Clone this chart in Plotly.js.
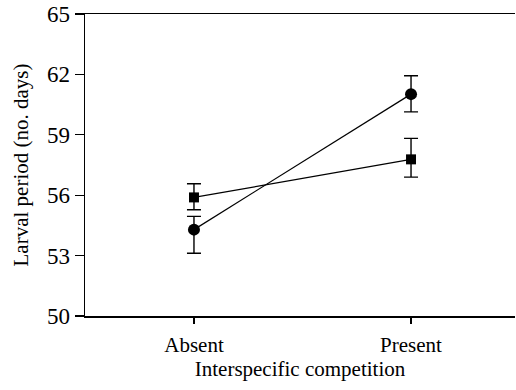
<!DOCTYPE html>
<html>
<head>
<meta charset="utf-8">
<script src="https://cdn.plot.ly/plotly-3.0.1.min.js"></script>
<style>html,body{margin:0;padding:0;background:#fff;}#chart{width:516px;height:390px;}</style>
</head>
<body>
<div id="chart"></div>
<script>
var categories = ["Absent", "Present"];
var catPositions = [0, 1];
var circleValues = [54.29, 61.02];
var circleErrPlus = [0.66, 0.91];
var circleErrMinus = [1.17, 0.88];
var squareValues = [55.89, 57.78];
var squareErrPlus = [0.68, 1.04];
var squareErrMinus = [0.61, 0.88];
var yTicks = [50, 53, 56, 59, 62, 65];

var serif = "Liberation Serif, Times New Roman, serif";

function series(vals, plus, minus, symbol, size) {
  return {
    x: catPositions, y: vals, type: "scatter", mode: "lines+markers",
    line: {color: "#000", width: 1.2},
    marker: {symbol: symbol, size: size, color: "#000"},
    error_y: {type: "data", symmetric: false, array: plus, arrayminus: minus,
              color: "#000", thickness: 1.4, width: 7},
    showlegend: false, cliponaxis: false
  };
}

var data = [
  series(circleValues, circleErrPlus, circleErrMinus, "circle", 12),
  series(squareValues, squareErrPlus, squareErrMinus, "square", 10)
];

var layout = {
  width: 516, height: 390,
  margin: {l: 85, r: 1, t: 14, b: 74},
  paper_bgcolor: "#fff", plot_bgcolor: "#fff",
  font: {family: serif, color: "#000", size: 21},
  xaxis: {
    range: [-0.502, 1.479],
    tickvals: catPositions, ticktext: categories,
    ticks: "outside", ticklen: 6, tickwidth: 1.2, tickcolor: "#000",
    ticklabelstandoff: 3,
    showline: true, linecolor: "#000", linewidth: 1.5, mirror: true,
    showgrid: false, zeroline: false,
    tickfont: {family: serif, size: 21, color: "#000"},
    title: {text: "Interspecific competition", font: {family: serif, size: 21, color: "#000"}, standoff: 5}
  },
  yaxis: {
    range: [50, 65],
    tickvals: yTicks,
    ticks: "outside", ticklen: 9, tickwidth: 1.2, tickcolor: "#000",
    showline: true, linecolor: "#000", linewidth: 1.5,
    showgrid: false, zeroline: false,
    tickfont: {family: serif, size: 23, color: "#000"},
    title: {text: "Larval period (no. days)", font: {family: serif, size: 21, color: "#000"}, standoff: 12}
  }
};

Plotly.newPlot("chart", data, layout, {displayModeBar: false, staticPlot: true});
</script>
</body>
</html>
